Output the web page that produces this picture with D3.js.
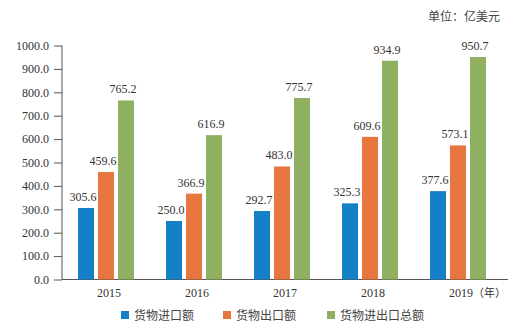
<!DOCTYPE html>
<html><head><meta charset="utf-8">
<script src="https://cdn.jsdelivr.net/npm/d3@7"></script>
<style>body{margin:0;background:#fff}svg{display:block}</style>
</head><body>
<svg id="c" width="518" height="326"></svg>
<script>
const years = ["2015","2016","2017","2018","2019"];
const importVals = [305.6, 250.0, 292.7, 325.3, 377.6];
const exportVals = [459.6, 366.9, 483.0, 609.6, 573.1];
const totalVals = [765.2, 616.9, 775.7, 934.9, 950.7];
const seriesNames = ["货物进口额", "货物出口额", "货物进出口总额"];
const yTicks = [0,100,200,300,400,500,600,700,800,900,1000];
const colors = ["#1580c8", "#e8773f", "#8fb060"];
const unitLabel = "单位：亿美元";
const yearSuffix = "（年）";

const svg = d3.select("#c");
const serif = "'Liberation Serif','Times New Roman',serif";
const cjk = "'Noto Sans CJK SC','Noto Sans',sans-serif";

const x = d3.scaleBand().domain(years).range([62, 502]).paddingInner(0).paddingOuter(0);
const y = d3.scaleLinear().domain([0, 1000]).range([279.5, 45.5]);
const series = [importVals, exportVals, totalVals];
const barW = 16, gap = 4;
const groupW = barW*3 + gap*2;

// y axis
const yAxis = svg.append("g").attr("transform","translate(62,0)")
  .call(d3.axisLeft(y).tickValues(yTicks).tickFormat(d3.format(".1f")).tickSize(8).tickPadding(5));
yAxis.select(".domain").attr("stroke","#555").attr("d","M0,279.5V45.5");
yAxis.selectAll(".tick line").attr("stroke","#555");
yAxis.selectAll("text").attr("font-family",serif).attr("font-size",12).attr("fill","#333");

// x axis line
svg.append("line").attr("x1",62).attr("x2",508).attr("y1",y(0)).attr("y2",y(0)).attr("stroke","#555");

// bars
series.forEach((vals, si) => {
  svg.append("g").selectAll("rect").data(vals).join("rect")
    .attr("x", (d,i) => x(years[i]) + x.bandwidth()/2 - groupW/2 + si*(barW+gap))
    .attr("width", barW)
    .attr("y", d => y(d))
    .attr("height", d => y(0) - y(d))
    .attr("fill", colors[si]);
  svg.append("g").selectAll("text").data(vals).join("text")
    .attr("x", (d,i) => x(years[i]) + x.bandwidth()/2 - groupW/2 + si*(barW+gap) + barW/2 - 3)
    .attr("y", d => y(d) - 7)
    .attr("text-anchor","middle")
    .attr("font-family", serif).attr("font-size",12).attr("fill","#333")
    .text(d => d.toFixed(1));
});

// x labels
years.forEach((yr, i) => {
  const t = svg.append("text")
    .attr("x", x(yr) + x.bandwidth()/2 + 3)
    .attr("y", 297)
    .attr("text-anchor","middle")
    .attr("font-family", serif).attr("font-size",12).attr("fill","#333")
    .text(yr);
  if (i === years.length - 1) {
    t.attr("text-anchor","start").attr("x", x(yr) + x.bandwidth()/2 + 3 - 12);
    t.append("tspan").attr("font-family", cjk).attr("font-size",11).text(yearSuffix);
  }
});

// unit label
svg.append("text").attr("x",500).attr("y",21).attr("text-anchor","end")
  .attr("font-family",cjk).attr("font-size",12).attr("fill","#444").text(unitLabel);

// legend
const legX = [121, 223, 327];
seriesNames.forEach((n, i) => {
  svg.append("rect").attr("x",legX[i]).attr("y",311).attr("width",8).attr("height",8).attr("fill",colors[i]);
  svg.append("text").attr("x",legX[i]+13).attr("y",319.5)
    .attr("font-family",cjk).attr("font-size",12).attr("fill","#444").text(n);
});
</script>
</body></html>
